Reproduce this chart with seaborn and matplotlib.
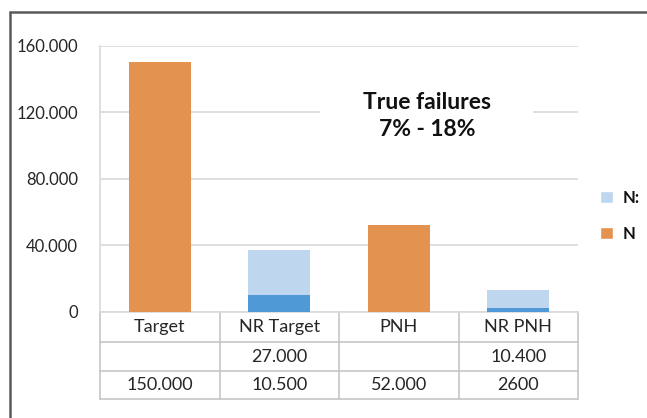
import matplotlib
matplotlib.use("Agg")
import matplotlib.pyplot as plt
import matplotlib.transforms as mtransforms
from matplotlib.patches import Patch, Rectangle
from matplotlib.lines import Line2D
import seaborn as sns
import pandas as pd

# ---- data ----
categories = ["Target", "NR Target", "PNH", "NR PNH"]
n_values = [150000, 10500, 52000, 2600]          # series "N"
ncolon_values = [0, 27000, 0, 10400]             # series "N:"
n_labels = ["150.000", "10.500", "52.000", "2600"]
ncolon_labels = ["", "27.000", "", "10.400"]
yticks = [0, 40000, 80000, 120000, 160000]
ytick_labels = ["0", "40.000", "80.000", "120.000", "160.000"]
annotation = "True failures\n7% - 18%"

# ---- style ----
ORANGE = "#E4924F"
DARKBLUE = "#4F9AD6"
LIGHTBLUE = "#BED6EE"
n_colors = [ORANGE, DARKBLUE, ORANGE, DARKBLUE]
GRID = "#D9D9D9"
TABLE = "#C6C6C6"
TXT = "#262626"

sns.set_theme(style="white")
plt.rcParams["font.family"] = ["Lato", "DejaVu Sans"]

df = pd.DataFrame({"cat": categories, "N": n_values, "Ncol": ncolon_values})
df["total"] = df["N"] + df["Ncol"]

W, H = 647, 418
fig = plt.figure(figsize=(W / 100, H / 100), dpi=100)
ax_left, ax_right, ax_bottom, ax_top = 100, 578, 312, 45.5
ax = fig.add_axes([ax_left / W, 1 - ax_bottom / H, (ax_right - ax_left) / W, (ax_bottom - ax_top) / H])

bw = 0.52
sns.barplot(data=df, x="cat", y="total", color=LIGHTBLUE, width=bw, saturation=1, ax=ax,
            zorder=3, linewidth=0, edgecolor="none")
sns.barplot(data=df, x="cat", y="N", hue="cat", palette=n_colors, width=bw, saturation=1,
            legend=False, ax=ax, zorder=3, linewidth=0, edgecolor="none")

ax.set_xlim(-0.5, len(categories) - 0.5)
ax.set_ylim(0, 160000)
ax.set_yticks(yticks)
ax.set_yticklabels(ytick_labels)
ax.set_xticks([])
ax.set_xlabel("")
ax.set_ylabel("")
ax.yaxis.grid(True, color=GRID, lw=1.2, zorder=0)
ax.set_axisbelow(True)
ax.tick_params(axis="y", length=0, pad=16, labelsize=12, labelcolor=TXT)
for s in ["top", "right"]:
    ax.spines[s].set_visible(False)
for s in ["left", "bottom"]:
    ax.spines[s].set_color(GRID)
    ax.spines[s].set_linewidth(1.2)

# ---- data table below axis ----
axh = ax_bottom - ax_top
row_px = [0, 30, 59, 87]
row_fr = [-p / axh for p in row_px]
trans = mtransforms.blended_transform_factory(ax.transData, ax.transAxes)
x0, x1 = -0.5, len(categories) - 0.5
for yf in row_fr[1:]:
    ax.add_line(Line2D([x0, x1], [yf, yf], transform=trans, color=TABLE, lw=1.2, clip_on=False))
for i in range(len(categories) + 1):
    xv = i - 0.5
    ax.add_line(Line2D([xv, xv], [0, row_fr[-1]], transform=trans, color=TABLE, lw=1.2, clip_on=False))

rows = [categories, ncolon_labels, n_labels]
for r, labels in enumerate(rows):
    yc = (row_fr[r] + row_fr[r + 1]) / 2
    for i, lab in enumerate(labels):
        ax.text(i, yc, lab, transform=trans, ha="center", va="center", fontsize=13, color=TXT)

# ---- annotation box ----
fig.add_artist(Rectangle((320 / W, 1 - 150 / H), 213 / W, 72 / H, transform=fig.transFigure,
                         facecolor="white", edgecolor="none", zorder=2))
fig.text(427 / W, 1 - 116 / H, annotation, ha="center", va="center", fontsize=16.5,
         fontweight="bold", color="#111111", linespacing=1.4, zorder=3)

# ---- legend ----
handles = [Patch(facecolor=LIGHTBLUE, label="N:"), Patch(facecolor=ORANGE, label="N")]
fig.legend(handles=handles, loc="center left", bbox_to_anchor=(600 / W, 1 - 216 / H), frameon=False,
           borderaxespad=0, borderpad=0,
           handlelength=0.75, handleheight=0.75, handletextpad=0.6, labelspacing=1.2,
           prop={"size": 12, "weight": "bold"}, labelcolor="#111111")

# ---- outer border (left and top) ----
fig.add_artist(Line2D([9.5 / W, 9.5 / W], [0, 1 - 11.5 / H], transform=fig.transFigure, color="#5A5A5A", lw=1.8))
fig.add_artist(Line2D([9.5 / W, 1], [1 - 11.5 / H, 1 - 11.5 / H], transform=fig.transFigure, color="#5A5A5A", lw=1.8))

fig.savefig("out.png", dpi=100, facecolor="white")
